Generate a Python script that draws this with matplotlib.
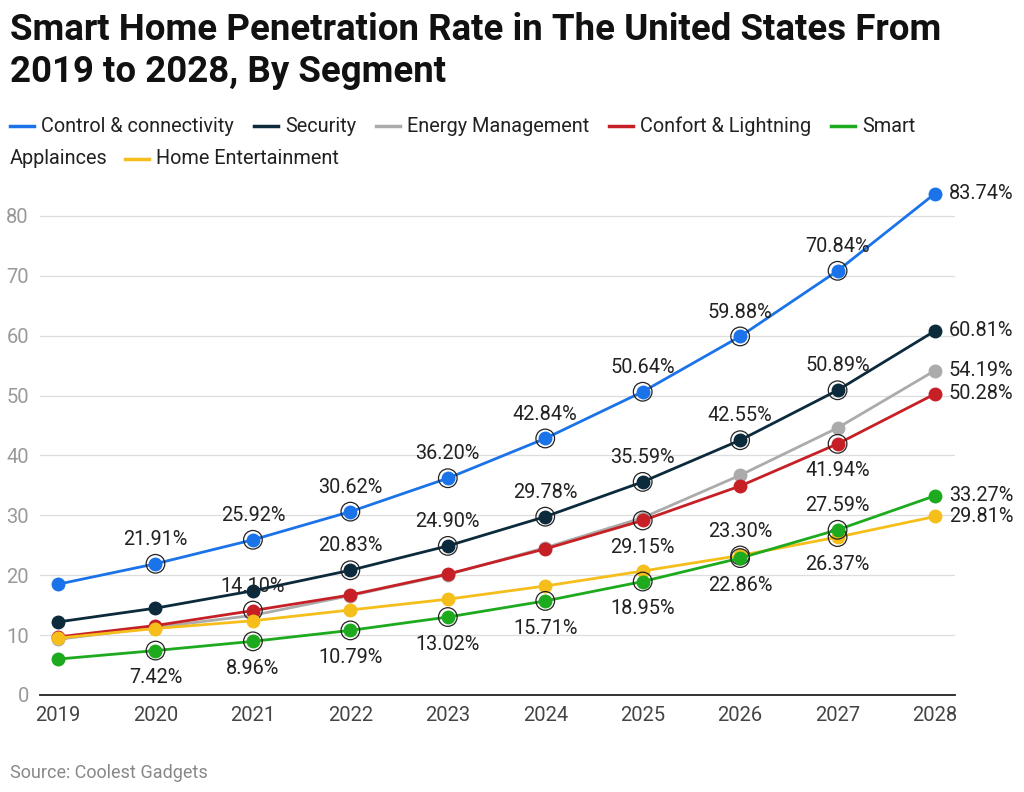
import matplotlib.pyplot as plt
from matplotlib.lines import Line2D

plt.rcParams['font.family'] = ['Roboto', 'DejaVu Sans']

years = [2019, 2020, 2021, 2022, 2023, 2024, 2025, 2026, 2027, 2028]

control = [18.5, 21.91, 25.92, 30.62, 36.20, 42.84, 50.64, 59.88, 70.84, 83.74]
security = [12.2, 14.5, 17.4, 20.83, 24.90, 29.78, 35.59, 42.55, 50.89, 60.81]
energy = [9.3, 11.3, 13.3, 16.6, 20.1, 24.6, 29.6, 36.7, 44.6, 54.19]
confort = [9.7, 11.6, 14.10, 16.7, 20.2, 24.4, 29.15, 34.9, 41.94, 50.28]
smart = [6.0, 7.42, 8.96, 10.79, 13.02, 15.71, 18.95, 22.86, 27.59, 33.27]
entertainment = [9.5, 11.1, 12.4, 14.2, 16.0, 18.2, 20.7, 23.30, 26.37, 29.81]

names = ["Control & connectivity", "Security", "Energy Management",
         "Confort & Lightning", "Smart Applaince", "Home Entertainment"]
colors = ["#1a73e8", "#0b2a3c", "#ababab", "#c62026", "#1eaa1e", "#f5be1b"]
series = [control, security, energy, confort, smart, entertainment]

# labelled points: index -> 'above' / 'below'
labelled = [
    {1: "above", 2: "above", 3: "above", 4: "above", 5: "above", 6: "above", 7: "above", 8: "above"},
    {3: "above", 4: "above", 5: "above", 6: "above", 7: "above", 8: "above"},
    {},
    {2: "above", 6: "below", 8: "below"},
    {1: "below", 2: "below", 3: "below", 4: "below", 5: "below", 6: "below", 7: "below", 8: "above"},
    {7: "above", 8: "below"},
]
zorders = [8, 7, 3, 4, 6, 5]

fig = plt.figure(figsize=(10.24, 7.92), dpi=100)
ax = fig.add_axes([40 / 1024, 1 - 695 / 792, 915 / 1024, (695 - 189) / 792])

for vals, col, labs, z in zip(series, colors, labelled, zorders):
    ax.plot(years, vals, color=col, lw=2.0, marker="o", ms=9, zorder=z, clip_on=False)
    for i, pos in labs.items():
        ax.scatter(years[i], vals[i], s=180, facecolors="none", edgecolors="#222222",
                   linewidths=0.9, zorder=z + 0.5, clip_on=False)
        dy = 17.5 if pos == "above" else -19.5
        ax.annotate(f"{vals[i]:.2f}%", (years[i], vals[i]), xytext=(0, dy),
                    textcoords="offset points", ha="center", va="center",
                    fontsize=14.3, color="#222222", zorder=10)
    ax.annotate(f"{vals[-1]:.2f}%", (years[-1], vals[-1]), xytext=(10, 0),
                textcoords="offset points", ha="left", va="center",
                fontsize=14.3, color="#222222", annotation_clip=False)

ax.set_xlim(2018.815, 2028.205)
ax.set_ylim(0, 84.5)
ax.set_xticks(years)
ax.set_yticks([0, 10, 20, 30, 40, 50, 60, 70, 80])
ax.tick_params(axis="both", length=0, labelsize=14.5, colors="#444444")
ax.tick_params(axis="y", labelcolor="#999999", pad=8)
ax.tick_params(axis="x", pad=8)
ax.grid(axis="y", color="#dddddd", lw=0.9)
ax.set_axisbelow(True)
for s in ["top", "right", "left"]:
    ax.spines[s].set_visible(False)
ax.spines["bottom"].set_color("#222222")
ax.spines["bottom"].set_linewidth(1.3)

fig.text(10 / 1024, 1 - 30 / 792, "Smart Home Penetration Rate in The United States From",
         fontsize=26.4, fontweight="bold", va="center", ha="left", color="#111111")
fig.text(10 / 1024, 1 - 72 / 792, "2019 to 2028, By Segment",
         fontsize=26.4, fontweight="bold", va="center", ha="left", color="#111111")

# legend drawn by hand so that it wraps like the reference
fig.canvas.draw()
renderer = fig.canvas.get_renderer()
W, H = 1024, 792
row1, row2 = 126, 159
x = 10
legend_fs = 14.3
for k in range(5):
    fig.add_artist(Line2D([x / W, (x + 24) / W], [1 - row1 / H] * 2, color=colors[k], lw=2.5))
    label = names[k] if k < 4 else "Smart"
    t = fig.text((x + 31) / W, 1 - row1 / H, label, fontsize=legend_fs, va="center", color="#222222")
    w = t.get_window_extent(renderer).width
    x = x + 31 + w + 20
t = fig.text(10 / W, 1 - row2 / H, "Applainces", fontsize=legend_fs, va="center", color="#222222")
w = t.get_window_extent(renderer).width
x = 10 + w + 17
fig.add_artist(Line2D([x / W, (x + 24) / W], [1 - row2 / H] * 2, color=colors[5], lw=2.5))
fig.text((x + 31) / W, 1 - row2 / H, names[5], fontsize=legend_fs, va="center", color="#222222")

fig.text(10 / W, 1 - 773 / H, "Source: Coolest Gadgets", fontsize=13, color="#888888", va="center")

fig.savefig("out.png", dpi=100)
